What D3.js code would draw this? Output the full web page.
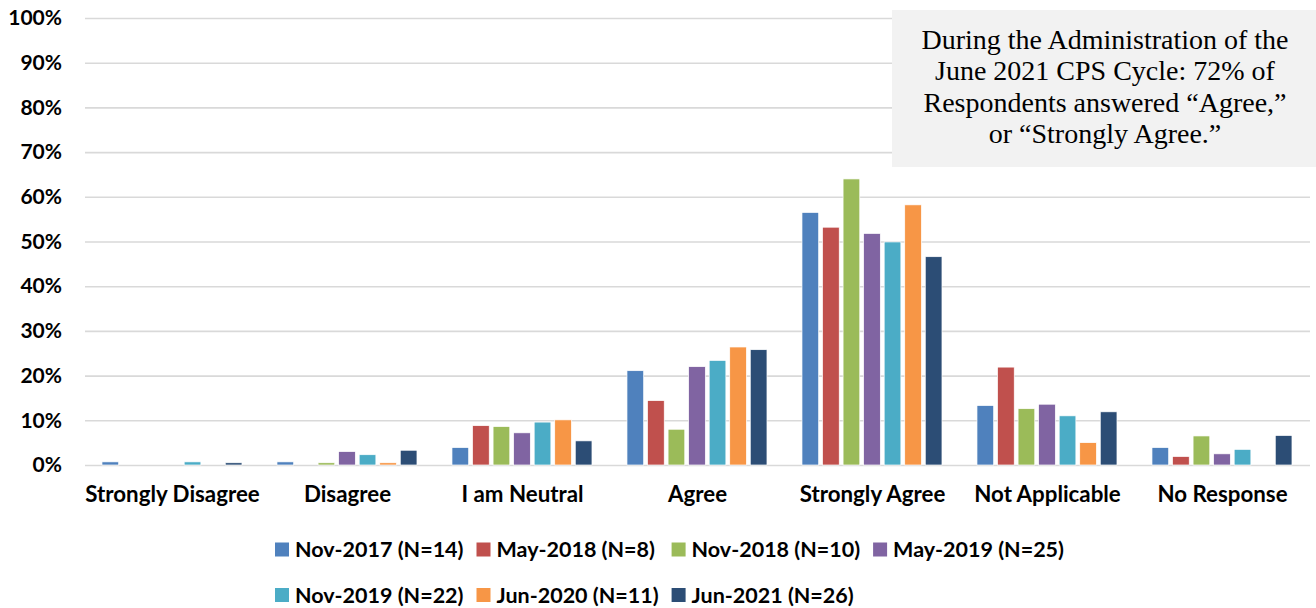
<!DOCTYPE html>
<html>
<head>
<meta charset="utf-8">
<script src="https://cdn.jsdelivr.net/npm/d3@7"></script>
<style>
  body { margin: 0; background: #fff; }
  svg { display: block; }
  .tick text { font-family: Lato, "Open Sans", sans-serif; font-weight: bold; fill: #000; }
  .note { font-family: "Liberation Serif", "Times New Roman", serif; fill: #000; }
  .legendText { font-family: Lato, "Open Sans", sans-serif; font-weight: bold; fill: #000; }
</style>
</head>
<body>
<div id="chart"></div>
<script>
// categories on the x axis
var categories = ["Strongly Disagree", "Disagree", "I am Neutral", "Agree",
  "Strongly Agree", "Not Applicable", "No Response"];

// survey cycles (legend)
var seriesNames = ["Nov-2017 (N=14)", "May-2018 (N=8)", "Nov-2018 (N=10)", "May-2019 (N=25)",
  "Nov-2019 (N=22)", "Jun-2020 (N=11)", "Jun-2021 (N=26)"];

// percent values, one per category
var nov2017 = [0.7, 0.7, 3.9, 21.1, 56.5, 13.3, 3.9];
var may2018 = [0, 0, 8.8, 14.4, 53.2, 21.9, 1.9];
var nov2018 = [0, 0.5, 8.6, 8.0, 64.0, 12.6, 6.5];
var may2019 = [0, 3.0, 7.2, 22.0, 51.8, 13.6, 2.5];
var nov2019 = [0.7, 2.3, 9.6, 23.4, 49.9, 11.0, 3.5];
var jun2020 = [0, 0.5, 10.1, 26.4, 58.2, 5.0, 0];
var jun2021 = [0.5, 3.3, 5.4, 25.8, 46.6, 11.9, 6.6];

var yTicks = [0, 10, 20, 30, 40, 50, 60, 70, 80, 90, 100];

var noteLines = ["During the Administration of the", "June 2021 CPS Cycle: 72% of",
  "Respondents answered \u201cAgree,\u201d", "or \u201cStrongly Agree.\u201d"];

var colors = ["#4F81BD", "#C0504D", "#9BBB59", "#8064A2", "#4BACC6", "#F79646", "#2C4D75"];

var allSeries = [nov2017, may2018, nov2018, may2019, nov2019, jun2020, jun2021];

var W = 1316, H = 608;
var margin = { top: 18, right: 6, bottom: 143, left: 85 };
var width = W - margin.left - margin.right,
    height = H - margin.top - margin.bottom;

var svg = d3.select("#chart").append("svg")
  .attr("width", W)
  .attr("height", H);

var g = svg.append("g")
  .attr("transform", "translate(" + margin.left + "," + margin.top + ")");

var y = d3.scaleLinear().domain([0, 100]).range([height, 0]);

var x0 = d3.scaleBand().domain(categories).range([0, width]).padding(0);

var x1 = d3.scaleBand().domain(seriesNames)
  .range([x0.bandwidth() * 0.097, x0.bandwidth() * 0.897])
  .paddingInner(0.187);

var color = d3.scaleOrdinal().domain(seriesNames).range(colors);

// gridlines + y labels
var yAxis = d3.axisLeft(y)
  .tickValues(yTicks)
  .tickSize(-width)
  .tickPadding(23)
  .tickFormat(function(d) { return d + "%"; });

var yg = g.append("g").attr("class", "axis y-axis").call(yAxis);
yg.select(".domain").remove();
yg.selectAll(".tick line").attr("stroke", "#d9d9d9").attr("stroke-width", 1.6);
yg.selectAll(".tick text").style("font-size", "21px");

// annotation box (sits over the gridlines)
var boxX = 892 - margin.left, boxY = 10 - margin.top;
g.append("rect")
  .attr("x", boxX)
  .attr("y", boxY)
  .attr("width", W - 892)
  .attr("height", 157)
  .attr("fill", "#f2f2f2");

g.selectAll(".note")
  .data(noteLines)
  .enter()
  .append("text")
  .attr("class", "note")
  .attr("x", boxX + (W - 892) / 2 + 1)
  .attr("y", function(d, i) { return boxY + 39 + i * 31.3; })
  .attr("text-anchor", "middle")
  .style("font-size", "28px")
  .text(function(d) { return d; });

// bars
var rows = categories.map(function(c, ci) {
  return {
    category: c,
    values: seriesNames.map(function(s, si) {
      return { series: s, value: allSeries[si][ci] };
    })
  };
});

var groups = g.selectAll(".group")
  .data(rows)
  .enter()
  .append("g")
  .attr("class", "group")
  .attr("transform", function(d) { return "translate(" + x0(d.category) + ",0)"; });

groups.selectAll("rect")
  .data(function(d) { return d.values.filter(function(v) { return v.value > 0; }); })
  .enter()
  .append("rect")
  .attr("x", function(d) { return x1(d.series); })
  .attr("y", function(d) { return y(d.value); })
  .attr("width", x1.bandwidth())
  .attr("height", function(d) { return height - y(d.value); })
  .attr("fill", function(d) { return color(d.series); })
  .attr("stroke", "#fff")
  .attr("stroke-width", 0.7);

// x axis labels
var xAxis = d3.axisBottom(x0).tickSize(0).tickPadding(21);
var xg = g.append("g")
  .attr("class", "axis x-axis")
  .attr("transform", "translate(0," + height + ")")
  .call(xAxis);
xg.select(".domain").remove();
xg.selectAll(".tick text").style("font-size", "22.3px");

// legend: grid of two rows, columns as wide as their widest entry
var perRow = 4;
var legend = svg.append("g").attr("class", "legend");
var items = legend.selectAll(".item")
  .data(seriesNames)
  .enter()
  .append("g")
  .attr("class", "item");

items.append("rect")
  .attr("width", 14)
  .attr("height", 14)
  .attr("y", -7)
  .attr("fill", function(d) { return color(d); });

items.append("text")
  .attr("class", "legendText")
  .attr("x", 20)
  .attr("dy", "0.36em")
  .style("font-size", "21.5px")
  .text(function(d) { return d; });

var colW = [];
items.each(function(d, i) {
  var w = d3.select(this).select("text").node().getComputedTextLength() + 20;
  var c = i % perRow;
  colW[c] = Math.max(colW[c] || 0, w);
});

items.attr("transform", function(d, i) {
  var c = i % perRow, r = Math.floor(i / perRow);
  var xx = 275;
  for (var k = 0; k < c; k++) xx += colW[k] + 13;
  return "translate(" + xx + "," + (549.5 + r * 45.5) + ")";
});
</script>
</body>
</html>
